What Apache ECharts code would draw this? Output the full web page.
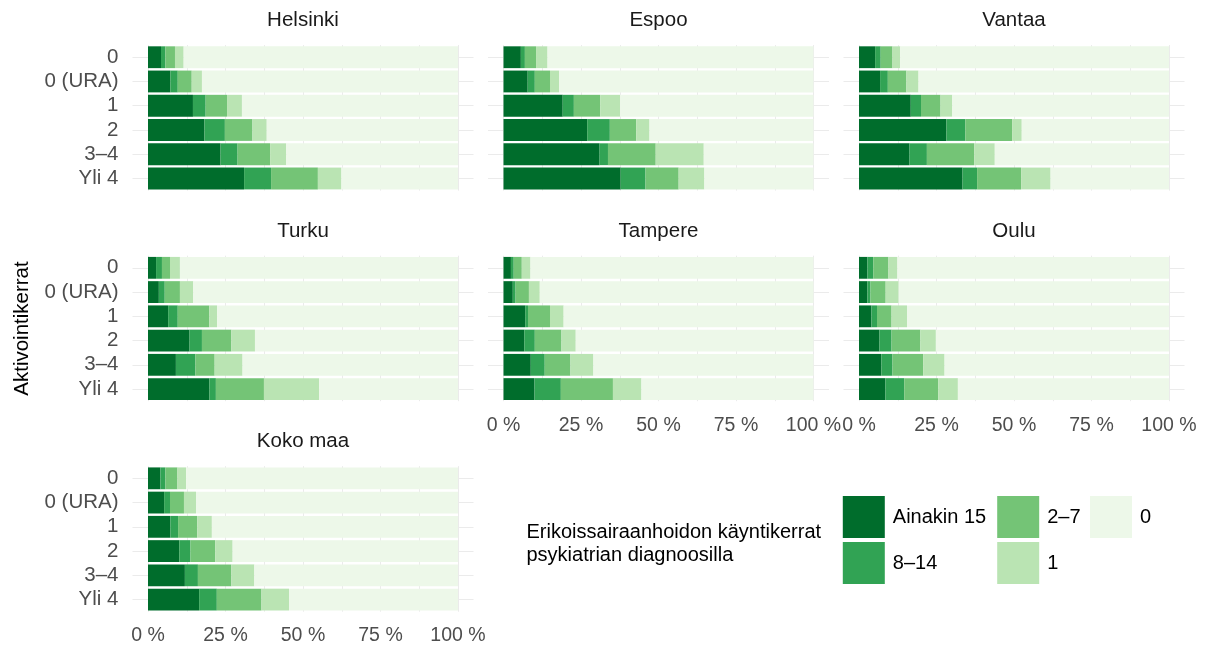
<!DOCTYPE html>
<html>
<head>
<meta charset="utf-8">
<script src="https://cdn.jsdelivr.net/npm/echarts@6/dist/echarts.min.js"></script>
<style>
html,body{margin:0;padding:0;background:#fff;}
#chart{width:1205px;height:649px;}
</style>
</head>
<body>
<div id="chart"></div>
<script>
// ---- data ----
const categories = ['0', '0 (URA)', '1', '2', '3–4', 'Yli 4'];
const classes = ['Ainakin 15', '8–14', '2–7', '1', '0'];
const panelNames = ['Helsinki', 'Espoo', 'Vantaa', 'Turku', 'Tampere', 'Oulu', 'Koko maa'];
const xTickLabels = [0, 25, 50, 75, 100];
const xGridValues = [0, 12.5, 25, 37.5, 50, 62.5, 75, 87.5, 100];

// each array: one class, values for categories (0, 0 (URA), 1, 2, 3–4, Yli 4), in %
const helsinki = [
  [4.2, 7.2, 14.5, 18.2, 23.4, 31.0],
  [1.4, 2.4, 4.1, 6.6, 5.5, 8.7],
  [3.1, 4.5, 6.9, 8.9, 10.5, 15.1],
  [2.8, 3.3, 4.8, 4.6, 5.2, 7.6],
  [88.5, 82.6, 69.7, 61.7, 55.4, 37.6]
];
const espoo = [
  [5.6, 7.8, 19.1, 27.0, 31.0, 37.8],
  [1.3, 2.3, 3.6, 7.3, 2.7, 8.0],
  [3.6, 4.9, 8.5, 8.5, 15.4, 10.7],
  [3.7, 2.9, 6.4, 4.3, 15.5, 8.3],
  [85.8, 82.1, 62.4, 52.9, 35.4, 35.2]
];
const vantaa = [
  [5.2, 6.8, 16.7, 28.2, 16.3, 33.4],
  [1.8, 2.5, 3.3, 6.1, 5.6, 4.7],
  [3.8, 6.0, 6.3, 15.1, 15.3, 14.2],
  [2.5, 3.9, 3.8, 3.1, 6.6, 9.5],
  [86.7, 80.8, 69.9, 47.5, 56.2, 38.2]
];
const turku = [
  [2.6, 3.5, 6.5, 13.4, 9.0, 19.8],
  [1.9, 1.9, 3.1, 4.0, 6.3, 2.1],
  [2.6, 4.9, 10.2, 9.5, 6.2, 15.5],
  [3.2, 4.3, 2.5, 7.6, 9.0, 17.8],
  [89.7, 85.4, 77.7, 65.5, 69.5, 44.8]
];
const tampere = [
  [2.4, 3.0, 7.0, 6.7, 8.8, 10.0],
  [0.9, 0.9, 0.9, 3.4, 4.5, 8.5],
  [2.6, 4.3, 7.1, 8.6, 8.3, 16.8],
  [2.8, 3.5, 4.4, 4.6, 7.4, 9.2],
  [91.3, 88.3, 80.6, 76.7, 71.0, 55.5]
];
const oulu = [
  [2.7, 2.7, 4.0, 6.6, 7.2, 8.5],
  [1.9, 1.0, 1.8, 3.9, 3.6, 6.1],
  [4.9, 4.9, 4.7, 9.3, 9.9, 11.0],
  [2.9, 4.2, 5.0, 5.0, 6.9, 6.3],
  [87.6, 87.2, 84.5, 75.2, 72.4, 68.1]
];
const kokoMaa = [
  [4.0, 5.2, 7.2, 10.1, 11.9, 16.5],
  [1.6, 1.9, 2.5, 3.6, 4.2, 5.7],
  [3.9, 4.5, 6.2, 8.0, 10.8, 14.4],
  [2.8, 3.9, 4.7, 5.6, 7.4, 8.9],
  [87.7, 84.5, 79.4, 72.7, 65.7, 54.5]
];
const panelData = [helsinki, espoo, vantaa, turku, tampere, oulu, kokoMaa];

// ---- styles / layout ----
const colors = ['#006D2C', '#31A354', '#74C476', '#BAE4B3', '#EDF8E9'];
const FONT = '"Liberation Sans", Arial, sans-serif';
const colLeft = [132.5, 488, 843.5];
const rowTop = [45.1, 255.7, 466.2];
const panelW = 341, panelH = 145.5;
const gridColor = '#EBEBEB';

const grids = [], xAxes = [], yAxes = [], series = [], graphics = [];

panelNames.forEach((name, i) => {
  const row = Math.floor(i / 3), col = i % 3;
  grids.push({left: colLeft[col], top: rowTop[row], width: panelW, height: panelH, containLabel: false});
  const showX = (i === 4 || i === 5 || i === 6);
  xAxes.push({
    gridIndex: i, type: 'value', min: -5, max: 105,
    axisLine: {show: false},
    axisTick: {show: false, customValues: xGridValues},
    splitLine: {show: true, lineStyle: {color: gridColor, width: 1}},
    axisLabel: {show: showX, customValues: xTickLabels, formatter: v => v + ' %',
      fontSize: 19.5, fontFamily: FONT, color: '#4D4D4D', margin: 14}
  });
  yAxes.push({
    gridIndex: i, type: 'category', inverse: true, data: categories,
    axisLine: {show: false}, axisTick: {show: false}, splitLine: {show: false},
    axisLabel: {show: col === 0, interval: 0, fontSize: 20.5, fontFamily: FONT, color: '#4D4D4D', margin: 14}
  });
  // horizontal gridlines at category centres (drawn beneath the bars)
  series.push({
    type: 'line', xAxisIndex: i, yAxisIndex: i, data: [], z: 0, silent: true,
    markLine: {
      silent: true, symbol: ['none', 'none'], animation: false, z: 0,
      label: {show: false}, emphasis: {disabled: true},
      lineStyle: {color: gridColor, width: 1, type: 'solid'},
      data: categories.map(c => ({yAxis: c}))
    }
  });
  classes.forEach((cls, k) => {
    series.push({
      type: 'bar', name: cls, stack: 'p' + i, xAxisIndex: i, yAxisIndex: i,
      data: panelData[i][k], barWidth: '90%', z: 3, silent: true,
      itemStyle: {color: colors[k]}
    });
  });
  graphics.push({
    type: 'text', x: colLeft[col] + panelW / 2, y: rowTop[row] - 24.8,
    style: {text: name, font: '20.5px ' + FONT, fill: '#1A1A1A', textAlign: 'center', textVerticalAlign: 'middle'}
  });
});

// axis title
graphics.push({
  type: 'text', x: 22, y: 328.5, rotation: Math.PI / 2,
  style: {text: 'Aktivointikerrat', font: '20.5px ' + FONT, fill: '#000', textAlign: 'center', textVerticalAlign: 'middle'}
});
// legend title
graphics.push({
  type: 'text', x: 526.5, y: 543.5,
  style: {text: 'Erikoissairaanhoidon käyntikerrat\npsykiatrian diagnoosilla', font: '20px ' + FONT,
    fill: '#000', textAlign: 'left', textVerticalAlign: 'middle', lineHeight: 23}
});

const legendBase = {
  orient: 'vertical', top: 496, itemWidth: 42, itemHeight: 42, itemGap: 4, padding: 0,
  selectedMode: false, icon: 'rect',
  textStyle: {fontSize: 20, fontFamily: FONT, color: '#000', padding: [0, 0, 0, 3]}
};
const legends = [
  Object.assign({}, legendBase, {left: 842.8, data: ['Ainakin 15', '8–14']}),
  Object.assign({}, legendBase, {left: 997.2, data: ['2–7', '1']}),
  Object.assign({}, legendBase, {left: 1090, data: ['0']})
];

const chart = echarts.init(document.getElementById('chart'), null, {renderer: 'canvas'});
chart.setOption({
  animation: false,
  backgroundColor: '#fff',
  textStyle: {fontFamily: FONT},
  grid: grids, xAxis: xAxes, yAxis: yAxes, series: series,
  legend: legends, graphic: graphics
});
</script>
</body>
</html>
